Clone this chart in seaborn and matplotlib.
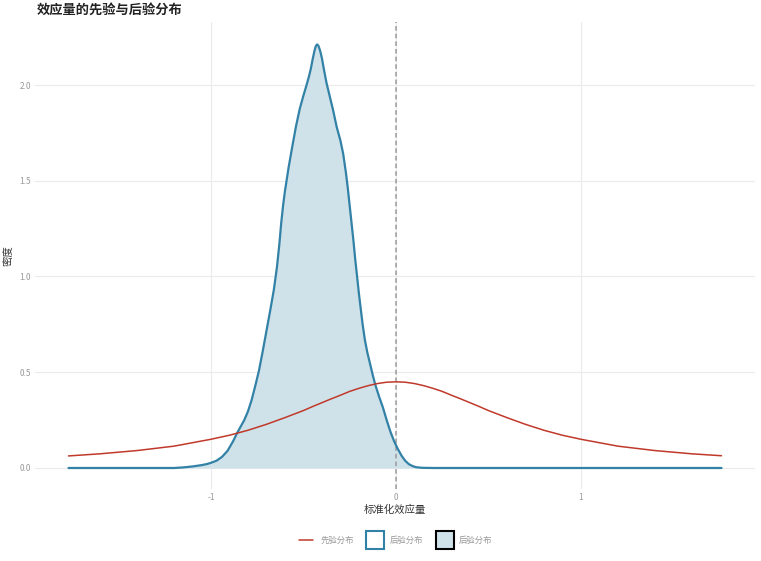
import pandas as pd
import matplotlib.pyplot as plt
import seaborn as sns
from matplotlib.lines import Line2D

sns.set_theme(style="whitegrid")
plt.rcParams['font.family'] = ['Noto Sans CJK SC', 'DejaVu Sans']
plt.rcParams['axes.unicode_minus'] = False

# 先验分布
prior_x = [-1.77, -1.6, -1.4, -1.2, -1.0, -0.9, -0.8, -0.7, -0.6, -0.5, -0.45, -0.4,
           -0.35, -0.3, -0.25, -0.2, -0.15, -0.1, -0.05, 0.0, 0.05, 0.1, 0.15, 0.2,
           0.25, 0.3, 0.35, 0.4, 0.45, 0.5, 0.6, 0.7, 0.8, 0.9, 1.0, 1.2, 1.4, 1.6, 1.76]
prior_y = [0.063, 0.074, 0.091, 0.114, 0.150, 0.171, 0.197, 0.228, 0.263, 0.300, 0.321,
           0.341, 0.361, 0.380, 0.400, 0.416, 0.430, 0.441, 0.448, 0.450, 0.448, 0.441,
           0.430, 0.416, 0.400, 0.380, 0.361, 0.341, 0.321, 0.300, 0.263, 0.228, 0.197,
           0.171, 0.150, 0.114, 0.091, 0.074, 0.064]

# 后验分布
post_x = [-1.77, -1.20, -1.15, -1.10, -1.05, -1.02, -1.00, -0.97, -0.94, -0.91, -0.88,
          -0.86, -0.84, -0.82, -0.80, -0.78, -0.76, -0.74, -0.72, -0.70, -0.68, -0.66,
          -0.643, -0.63, -0.62, -0.61, -0.60, -0.58, -0.56, -0.54, -0.52, -0.50, -0.483,
          -0.47, -0.46, -0.45, -0.44, -0.433, -0.426, -0.419, -0.41, -0.40, -0.39, -0.375,
          -0.36, -0.34, -0.32, -0.30, -0.285, -0.27, -0.26, -0.25, -0.24, -0.23, -0.22,
          -0.21, -0.20, -0.19, -0.18, -0.168, -0.155, -0.14, -0.124, -0.11, -0.09, -0.07,
          -0.05, -0.03, -0.01, 0.01, 0.03, 0.05, 0.07, 0.09, 0.11, 0.14, 0.20, 1.76]
post_y = [0.0, 0.0, 0.003, 0.008, 0.015, 0.021, 0.027, 0.038, 0.058, 0.090, 0.140,
          0.180, 0.215, 0.250, 0.295, 0.355, 0.430, 0.510, 0.610, 0.715, 0.820, 0.930,
          1.050, 1.170, 1.280, 1.370, 1.445, 1.570, 1.680, 1.785, 1.875, 1.945, 2.000,
          2.045, 2.085, 2.135, 2.180, 2.203, 2.212, 2.205, 2.180, 2.140, 2.085, 2.010,
          1.950, 1.870, 1.780, 1.710, 1.640, 1.540, 1.460, 1.370, 1.280, 1.190, 1.090,
          1.000, 0.910, 0.830, 0.750, 0.670, 0.605, 0.545, 0.480, 0.430, 0.370, 0.315,
          0.250, 0.190, 0.140, 0.100, 0.065, 0.038, 0.020, 0.010, 0.004, 0.001, 0.0, 0.0]

prior_df = pd.DataFrame({'x': prior_x, 'y': prior_y})
post_df = pd.DataFrame({'x': post_x, 'y': post_y})

red = '#C0392B'
blue = '#3281A6'
fill = '#D0E2E9'

fig = plt.figure(figsize=(7.61, 5.61), dpi=100)
ax = fig.add_axes([35 / 761, 72 / 561, 720 / 761, 467 / 561])

ax.fill_between(post_df['x'], post_df['y'], color=fill, lw=0, zorder=1)
sns.lineplot(data=post_df, x='x', y='y', color=blue, lw=1.6, ax=ax, zorder=3,
             solid_joinstyle='round')
sns.lineplot(data=prior_df, x='x', y='y', color=red, lw=1.1, ax=ax, zorder=4,
             solid_joinstyle='round')
ax.axvline(0, color='#9a9a9a', ls=(0, (3, 2)), lw=1.1, zorder=2)

ax.set_xlim(-1.951, 1.941)
ax.set_ylim(-0.1097, 2.329)
ax.set_xticks([-1, 0, 1])
ax.set_yticks([0.0, 0.5, 1.0, 1.5, 2.0])
ax.set_yticklabels(['0.0', '0.5', '1.0', '1.5', '2.0'])
ax.tick_params(axis='both', labelsize=6, colors='#999999', length=0, pad=3)
ax.grid(True, color='#ebebeb', lw=0.8)
ax.set_facecolor('white')
for s in ax.spines.values():
    s.set_visible(False)

ax.set_xlabel('标准化效应量', fontsize=7.5, color='#333333', labelpad=2)
ax.set_ylabel('密度', fontsize=7.5, color='#333333', labelpad=4)
fig.text(37 / 761, 1 - 10 / 561, '效应量的先验与后验分布', fontsize=9.5, fontweight='bold',
         color='#222222', va='center', ha='left')

handles = [
    Line2D([0], [0], color=red, lw=1.1),
    Line2D([0], [0], ls='none', marker='s', markersize=12.5, markerfacecolor='white',
           markeredgecolor=blue, markeredgewidth=1.5),
    Line2D([0], [0], ls='none', marker='s', markersize=12.5, markerfacecolor=fill,
           markeredgecolor='black', markeredgewidth=1.5),
]
fig.legend(handles, ['先验分布', '后验分布', '后验分布'], loc='center',
           bbox_to_anchor=(0.52, 1 - 540 / 561), ncol=3, frameon=False,
           fontsize=6, labelcolor='#999999', handlelength=1.7,
           columnspacing=1.7, handletextpad=0.9)

fig.savefig('out.png', dpi=100, facecolor='white')
